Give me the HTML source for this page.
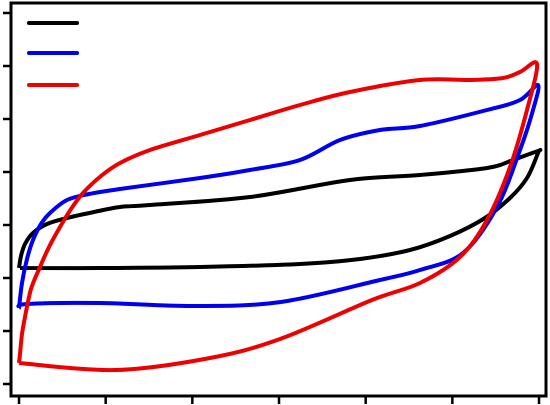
<!DOCTYPE html>
<html><head><meta charset="utf-8"><style>
html,body{margin:0;padding:0;background:#fff;}
svg{display:block;}
</style></head><body>
<svg id="chart" width="550" height="405" viewBox="0 0 550 405" xmlns="http://www.w3.org/2000/svg">
<rect x="11" y="3" width="535" height="393" fill="none" stroke="#000" stroke-width="3"/>
<g id="ticks"></g>
<g id="series"></g>
<g id="legend"></g>
</svg>
<script>
const xTicks = [0,1,2,3,4,5,6];
const yTicks = [0,1,2,3,4,5,6,7];
const blackX = [1,81,181,281,341,391,431,466,491,508,519,519,494,468,401,331,231,131,101,75,48,28,14,6,2,0];
const blackY = [116,116,117,120,125,134,148,166,186,206,231,233,224,216,209,204,187,179,177,172,166,160,151,140,128,116];
const blueX = [0,8,81,174,262,361,401,444,478,501,514,519,501,468,401,361,321,281,231,181,101,70,48,31,22,14,8,3,0];
const blueY = [76,80,81,78,82,104,114,131,177,234,274,299,284,274,258,254,244,224,214,206,195,190,184,171,160,144,125,101,76];
const redX = [0,97,191,261,353,401,441,468,491,508,518,501,484,451,401,331,281,231,181,131,101,82,64,52,41,30,21,12,6,3,1,0];
const redY = [21,14,26,45,84,101,127,164,217,274,320,312,306,304,304,292,279,264,249,234,221,208,191,175,157,137,117,95,67,50,30,21];
const seriesColors = ['#000','#0000ee','#ee0000'];

const xs = v => 19 + v;
const ys = v => 384 - v;
const xt = i => 19 + i * 86.67;
const yt = i => 384 - i * 53;
const NS = 'http://www.w3.org/2000/svg';
const tg = document.getElementById('ticks');
xTicks.forEach(i => {
  const l = document.createElementNS(NS,'line');
  
  
  l.setAttribute('x1',xt(i)); l.setAttribute('x2',xt(i));
  l.setAttribute('y1',396); l.setAttribute('y2',404);
  l.setAttribute('stroke','#000'); l.setAttribute('stroke-width','2.5');
  tg.appendChild(l);
});
yTicks.forEach(i => {
  const l = document.createElementNS(NS,'line');
  
  
  l.setAttribute('x1',3); l.setAttribute('x2',11);
  l.setAttribute('y1',yt(i)); l.setAttribute('y2',yt(i));
  l.setAttribute('stroke','#000'); l.setAttribute('stroke-width','2.5');
  tg.appendChild(l);
});
function pathFor(X,Y){
  const p = X.map((x,i)=>[xs(x),ys(Y[i])]);
  let d = 'M'+p[0][0]+','+p[0][1];
  for(let i=0;i<p.length-1;i++){
    const p0=p[Math.max(0,i-1)],p1=p[i],p2=p[i+1],p3=p[Math.min(p.length-1,i+2)];
    const c1=[p1[0]+(p2[0]-p0[0])/6,p1[1]+(p2[1]-p0[1])/6];
    const c2=[p2[0]-(p3[0]-p1[0])/6,p2[1]-(p3[1]-p1[1])/6];
    d+=' C'+c1[0]+','+c1[1]+' '+c2[0]+','+c2[1]+' '+p2[0]+','+p2[1];
  }
  return d;
}
const sg = document.getElementById('series');
const allSeries = [[blackX,blackY,'series-black'],[blueX,blueY,'series-blue'],[redX,redY,'series-red']];
allSeries.forEach((s,k)=>{
  const path = document.createElementNS(NS,'path');
  
  
  path.setAttribute('d', pathFor(s[0],s[1]));
  path.setAttribute('fill','none');
  path.setAttribute('stroke',seriesColors[k]);
  path.setAttribute('stroke-width','4');
  path.setAttribute('stroke-linejoin','round');
  sg.appendChild(path);
});
const lg = document.getElementById('legend');
[23,53,85].forEach((y,k)=>{
  const l = document.createElementNS(NS,'line');
  
  
  l.setAttribute('x1',29); l.setAttribute('x2',77);
  l.setAttribute('y1',y); l.setAttribute('y2',y);
  l.setAttribute('stroke',seriesColors[k]); l.setAttribute('stroke-width','4');
  l.setAttribute('stroke-linecap','round');
  lg.appendChild(l);
});
</script>
</body></html>
